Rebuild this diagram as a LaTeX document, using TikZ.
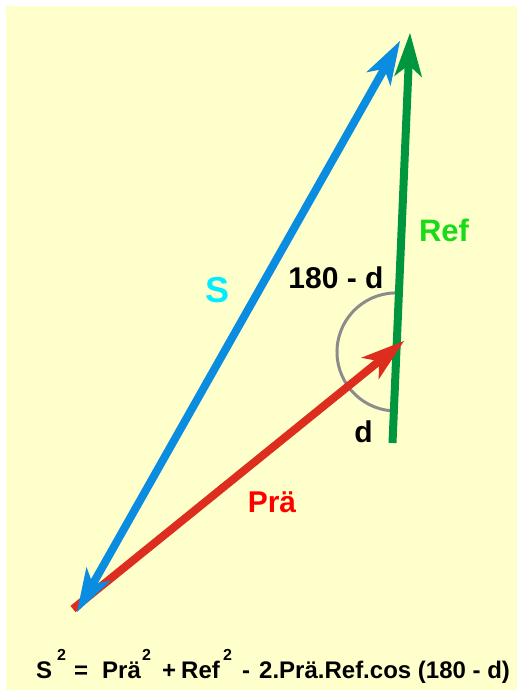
\documentclass[tikz,border=0pt]{standalone}
\usepackage{fontspec}
\setmainfont{Liberation Sans}
\usetikzlibrary{arrows.meta}
\definecolor{bgyellow}{HTML}{FFFFCC}
\definecolor{sblue}{HTML}{0A8CE0}
\definecolor{refgreen}{HTML}{009640}
\definecolor{prared}{HTML}{DC2D1E}
\definecolor{scyan}{HTML}{00EEFF}
\definecolor{reftext}{HTML}{18DC18}
\definecolor{arcgray}{HTML}{8C8C8C}
\tikzset{
  vec/.style={line width=8pt, -{Stealth[length=44pt,width=28pt,inset=12pt,line width=0pt]}},
  dvec/.style={line width=8pt, {Stealth[length=44pt,width=28pt,inset=12pt,line width=0pt]}-{Stealth[length=44pt,width=28pt,inset=12pt,line width=0pt]}},
  lbl/.style={font=\bfseries\fontsize{30}{30}\selectfont, anchor=base, inner sep=0pt},
  ftxt/.style={font=\bfseries\fontsize{24}{24}\selectfont, anchor=base west, inner sep=0pt},
  fsup/.style={font=\bfseries\fontsize{16}{16}\selectfont, anchor=base west, inner sep=0pt}
}
\begin{document}
\begin{tikzpicture}[x=1pt,y=1pt]
\useasboundingbox (0,0) rectangle (519,693);
\fill[bgyellow] (6,3) rectangle (517,687);
% coordinates
\coordinate (Gtail) at (392.5,250);
\coordinate (Gtip) at (410,660);
\coordinate (Sbot) at (77,81);
\coordinate (Stop) at (400,652);
\coordinate (Rtail) at (73,84);
\coordinate (Rtip) at (404,352);
\coordinate (Atop) at (400.1,399.9);
% angle arc
\draw[arcgray, line width=3pt] (Atop) arc[start angle=86, end angle=266, radius=59];
% vectors
\draw[vec, refgreen] (Gtail) -- (Gtip);
\draw[vec, prared] (Rtail) -- (Rtip);
\draw[dvec, sblue] (Sbot) -- (Stop);
% labels
\node[lbl, scyan, font=\bfseries\fontsize{36}{36}\selectfont] (lS) at (218,390) {S};
\node[lbl, reftext, font=\bfseries\fontsize{31}{31}\selectfont] (lRef) at (444,451) {Ref};
\node[lbl] (lAng) at (336,404) {180 - d};
\node[lbl] (ld) at (363.5,250) {d};
\node[lbl, red] (lPra) at (272,180) {Prä};
% formula
\node[ftxt] (f1) at (36,14) {S};
\node[fsup] (f2) at (57,32) {2};
\node[ftxt] (f3) at (74,14) {=};
\node[ftxt] (f4) at (102,14) {Prä};
\node[fsup] (f5) at (142,32) {2};
\node[ftxt] (f6) at (162,14) {+};
\node[ftxt] (f7) at (181,14) {Ref};
\node[fsup] (f8) at (223,32) {2};
\node[ftxt] (f9) at (242,14) {-};
\node[ftxt] (f10) at (259,14) {2.Prä.Ref.cos (180 - d)};
\end{tikzpicture}
\end{document}
